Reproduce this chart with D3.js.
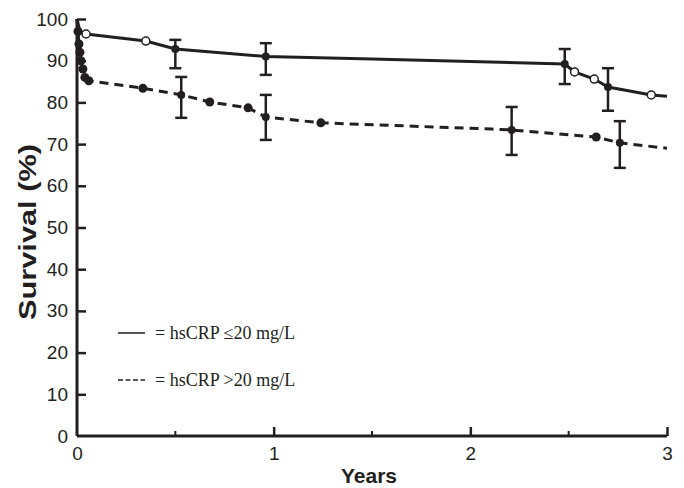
<!DOCTYPE html>
<html>
<head>
<meta charset="utf-8">
<script src="https://cdn.jsdelivr.net/npm/d3@7"></script>
<style>
  body { margin: 0; background: #fff; }
  svg { display: block; }
</style>
</head>
<body>
<div id="chart"></div>
<script>
'use strict';

/* curve for hsCRP <= 20 mg/L (solid, open circles) */
var lowYears = [0, 0.01, 0.02, 0.046, 0.35, 0.5, 0.96, 1.5, 2.0, 2.48, 2.53, 2.63, 2.7, 2.92, 3.0];
var lowSurvival = [100, 98, 97, 96.4, 94.7, 92.8, 91.0, 90.4, 89.8, 89.2, 87.3, 85.6, 83.7, 81.8, 81.5];
var lowMarkYears = [0.046, 0.35, 2.53, 2.63, 2.92];
var lowMarkSurvival = [96.4, 94.7, 87.3, 85.6, 81.8];
var lowErrYears = [0.5, 0.96, 2.48, 2.7];
var lowErrMid = [92.8, 91.0, 89.2, 83.7];
var lowErrTop = [95.0, 94.2, 92.8, 88.2];
var lowErrBottom = [88.2, 86.6, 84.4, 78.0];

/* curve for hsCRP > 20 mg/L (dashed, filled dots) */
var highYears = [0, 0.005, 0.01, 0.015, 0.02, 0.03, 0.04, 0.06, 0.335, 0.53, 0.675, 0.87, 0.96, 1.24, 2.11, 2.21, 2.64, 2.76, 3.0];
var highSurvival = [100, 97, 94, 92, 90, 88, 86, 85.2, 83.4, 81.8, 80.1, 78.7, 76.5, 75.1, 73.6, 73.4, 71.7, 70.3, 69.0];
var highMarkYears = [0.005, 0.01, 0.015, 0.02, 0.03, 0.04, 0.06, 0.335, 0.675, 0.87, 1.24, 2.64];
var highMarkSurvival = [97, 94, 92, 90, 88, 86, 85.2, 83.4, 80.1, 78.7, 75.1, 71.7];
var highErrYears = [0.53, 0.96, 2.21, 2.76];
var highErrMid = [81.8, 76.5, 73.4, 70.3];
var highErrTop = [86.1, 81.8, 78.9, 75.5];
var highErrBottom = [76.3, 71.0, 67.4, 64.3];

var xTicks = [0, 1, 2, 3];
var xMinorTicks = [0.5, 1.5, 2.5];
var yTicks = [0, 10, 20, 30, 40, 50, 60, 70, 80, 90, 100];
var legendLabels = ['= hsCRP \u226420 mg/L', '= hsCRP >20 mg/L'];

var width = 684;
var height = 488;
var ink = '#231f20';

var svg = d3.select('#chart')
  .append('svg')
  .attr('width', width)
  .attr('height', height);

var x = d3.scaleLinear().domain([0, 3]).range([77, 667]);
var y = d3.scaleLinear().domain([0, 100]).range([436, 19]);

/* axes - ticks point inwards */
var xAxis = d3.axisBottom(x).tickValues(xTicks).tickSize(-9).tickPadding(11).tickFormat(d3.format('d'));
var gx = svg.append('g').attr('transform', 'translate(0,' + y(0) + ')').call(xAxis);
gx.selectAll('.tick').filter(function(d) { return d === 0; }).select('line').remove();
svg.append('g').selectAll('line')
  .data(xMinorTicks)
  .enter()
  .append('line')
  .attr('x1', function(d) { return x(d); })
  .attr('x2', function(d) { return x(d); })
  .attr('y1', y(0))
  .attr('y2', y(0) - 5)
  .attr('stroke', ink)
  .attr('stroke-width', 2);

var yAxis = d3.axisLeft(y).tickValues(yTicks).tickSize(-9).tickPadding(9);
var gy = svg.append('g').attr('transform', 'translate(' + x(0) + ',0)').call(yAxis);
gy.selectAll('.tick').filter(function(d) { return d === 0; }).select('line').remove();

[gx, gy].forEach(function(g) {
  g.select('.domain').attr('stroke', ink).attr('stroke-width', 3);
  g.selectAll('.tick line').attr('stroke', ink).attr('stroke-width', 2.5);
  g.selectAll('.tick text')
    .attr('fill', ink)
    .style('font-family', 'Liberation Sans, Arial, sans-serif')
    .style('font-size', '19px');
});
gx.select('.domain').attr('d', 'M' + x(0) + ',0H' + x(3));
gy.select('.domain').attr('d', 'M0,' + y(0) + 'V' + y(100));

/* axis titles */
svg.append('text')
  .attr('x', 369)
  .attr('y', 483)
  .attr('text-anchor', 'middle')
  .style('font-family', 'Liberation Sans, Arial, sans-serif')
  .style('font-size', '21px')
  .style('font-weight', 'bold')
  .attr('fill', ink)
  .text('Years');

svg.append('text')
  .attr('transform', 'translate(36,232) rotate(-90)')
  .attr('text-anchor', 'middle')
  .attr('textLength', 176)
  .attr('lengthAdjust', 'spacingAndGlyphs')
  .style('font-family', 'Liberation Sans, Arial, sans-serif')
  .style('font-size', '23px')
  .style('font-weight', 'bold')
  .attr('fill', ink)
  .text('Survival (%)');

/* curves */
function drawCurve(years, surv, dash) {
  var pts = years.map(function(d, i) { return [d, surv[i]]; });
  var line = d3.line()
    .x(function(d) { return x(d[0]); })
    .y(function(d) { return y(d[1]); });
  svg.append('path')
    .datum(pts)
    .attr('d', line)
    .attr('fill', 'none')
    .attr('stroke', ink)
    .attr('stroke-width', 3)
    .attr('stroke-dasharray', dash);
}

function drawErrors(years, mid, top, bottom) {
  var g = svg.append('g');
  years.forEach(function(d, i) {
    var cx = x(d);
    g.append('line')
      .attr('x1', cx).attr('x2', cx)
      .attr('y1', y(top[i])).attr('y2', y(bottom[i]))
      .attr('stroke', ink).attr('stroke-width', 2.5);
    [top[i], bottom[i]].forEach(function(v) {
      g.append('line')
        .attr('x1', cx - 6).attr('x2', cx + 6)
        .attr('y1', y(v)).attr('y2', y(v))
        .attr('stroke', ink).attr('stroke-width', 2.5);
    });
    g.append('circle')
      .attr('cx', cx).attr('cy', y(mid[i])).attr('r', 4)
      .attr('fill', ink);
  });
}

function drawMarks(years, surv, open) {
  svg.append('g').selectAll('circle')
    .data(years)
    .enter()
    .append('circle')
    .attr('cx', function(d) { return x(d); })
    .attr('cy', function(d, i) { return y(surv[i]); })
    .attr('r', open ? 4 : 4.5)
    .attr('fill', open ? '#fff' : ink)
    .attr('stroke', ink)
    .attr('stroke-width', open ? 1.5 : 0);
}

drawCurve(lowYears, lowSurvival, null);
drawCurve(highYears, highSurvival, '9,6');
drawErrors(lowErrYears, lowErrMid, lowErrTop, lowErrBottom);
drawErrors(highErrYears, highErrMid, highErrTop, highErrBottom);
drawMarks(lowMarkYears, lowMarkSurvival, true);
drawMarks(highMarkYears, highMarkSurvival, false);

/* legend */
var legend = svg.selectAll('.legend')
  .data(legendLabels)
  .enter()
  .append('g')
  .attr('class', 'legend')
  .attr('transform', function(d, i) {
    return 'translate(118,' + (339 + i * 47) + ')';
  });
legend.append('line')
  .attr('x1', 0).attr('x2', 27)
  .attr('y1', -6).attr('y2', -6)
  .attr('stroke', ink)
  .attr('stroke-width', 1.5)
  .attr('stroke-dasharray', function(d, i) { return i === 1 ? '5,2.5' : null; });
legend.append('text')
  .attr('x', 37)
  .attr('y', 0)
  .style('font-family', 'Liberation Serif, Times New Roman, serif')
  .style('font-size', '18px')
  .attr('fill', ink)
  .text(function(d) { return d; });
</script>
</body>
</html>
